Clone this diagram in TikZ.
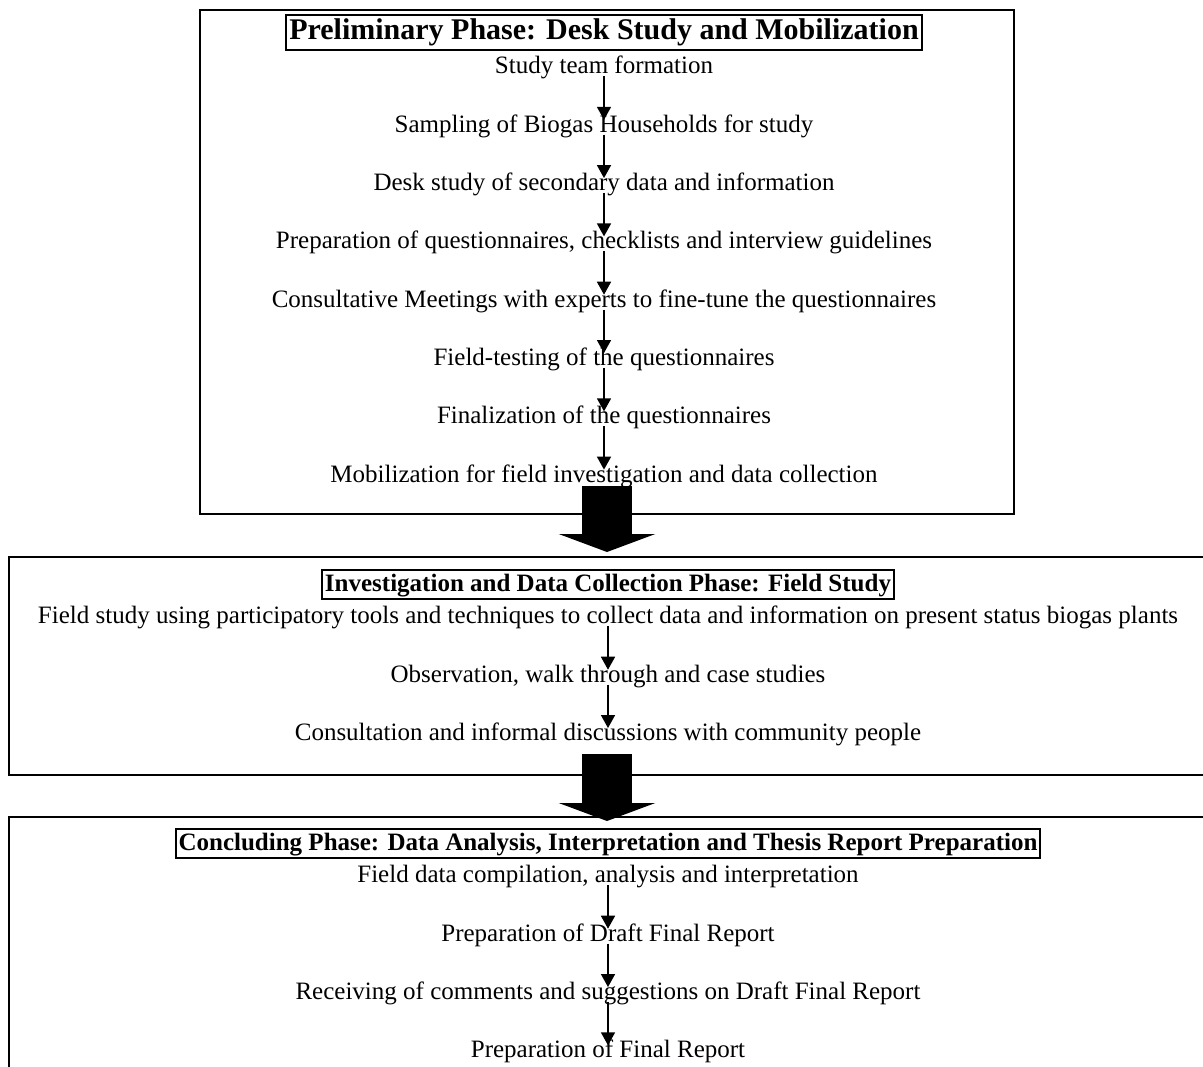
\documentclass[tikz,border=0pt]{standalone}
\usepackage{fontspec}
\setmainfont{Liberation Serif}
\usetikzlibrary{arrows.meta,positioning}

\begin{document}
\begin{tikzpicture}[
    x=0.5pt, y=-0.5pt,
    node distance=17.75pt,
    frame/.style={draw, line width=1pt, inner sep=0pt},
    head/.style={draw, line width=1pt, inner xsep=1.5pt, inner ysep=1.2pt, font=\fontsize{12.5pt}{15pt}\selectfont\bfseries, text height=9.5pt, text depth=3pt},
    bighead/.style={head, font=\fontsize{15pt}{18pt}\selectfont\bfseries, text height=11pt, text depth=3.5pt, inner ysep=1.5pt},
    task/.style={inner sep=0pt, font=\fontsize{12.5pt}{15pt}\selectfont, text height=8.5pt, text depth=2.5pt},
    link/.style={-{Triangle[length=6.5pt, width=7pt]}, line width=0.8pt, shorten <=-1.5pt, shorten >=-2.5pt},
    bigarrow/.style={-{Triangle[length=9pt, width=48pt]}, line width=25pt},
]
    \path[use as bounding box, clip] (0,0) rectangle (1203,1066);

    % Phase frames
    \node[frame, minimum width=407pt, minimum height=252pt] (prelim) at (607,262) {};
    \node[frame, minimum width=598pt, minimum height=109pt] (field) at (607,666) {};
    \node[frame, minimum width=598pt, minimum height=150pt] (conclude) at (607,967) {};

    % Preliminary phase
    \node[bighead] (prelimHead) at (604,32) {Preliminary Phase: Desk Study and Mobilization};
    \node[task, below=3pt of prelimHead] (team) {Study team formation};
    \node[task, below=of team] (sampling) {Sampling of Biogas Households for study};
    \node[task, below=of sampling] (desk) {Desk study of secondary data and information};
    \node[task, below=of desk] (prep) {Preparation of questionnaires, checklists and interview guidelines};
    \node[task, below=of prep] (consult) {Consultative Meetings with experts to fine-tune the questionnaires};
    \node[task, below=of consult] (fieldtest) {Field-testing of the questionnaires};
    \node[task, below=of fieldtest] (finalize) {Finalization of the questionnaires};
    \node[task, below=of finalize] (mobilize) {Mobilization for field investigation and data collection};

    % Field study phase
    \node[head] (fieldHead) at (608,584.5) {Investigation and Data Collection Phase: Field Study};
    \node[task, below=3pt of fieldHead] (survey) {Field study using participatory tools and techniques to collect data and information on present status biogas plants};
    \node[task, below=of survey] (observe) {Observation, walk through and case studies};
    \node[task, below=of observe] (discuss) {Consultation and informal discussions with community people};

    % Concluding phase
    \node[head] (concludeHead) at (608,843.5) {Concluding Phase: Data Analysis, Interpretation and Thesis Report Preparation};
    \node[task, below=3pt of concludeHead] (compile) {Field data compilation, analysis and interpretation};
    \node[task, below=of compile] (draft) {Preparation of Draft Final Report};
    \node[task, below=of draft] (comments) {Receiving of comments and suggestions on Draft Final Report};
    \node[task, below=of comments] (final) {Preparation of Final Report};

    \draw[link] (team) -- (sampling);
    \draw[link] (sampling) -- (desk);
    \draw[link] (desk) -- (prep);
    \draw[link] (prep) -- (consult);
    \draw[link] (consult) -- (fieldtest);
    \draw[link] (fieldtest) -- (finalize);
    \draw[link] (finalize) -- (mobilize);

    \draw[link] (survey) -- (observe);
    \draw[link] (observe) -- (discuss);

    \draw[link] (compile) -- (draft);
    \draw[link] (draft) -- (comments);
    \draw[link] (comments) -- (final);

    % Between phases
    \draw[bigarrow, shorten >=2pt] ([yshift=14.5pt]prelim.south) -- (field.north);
    \draw[bigarrow, shorten >=-2.5pt] ([yshift=11pt]field.south) -- (conclude.north);
\end{tikzpicture}
\end{document}
